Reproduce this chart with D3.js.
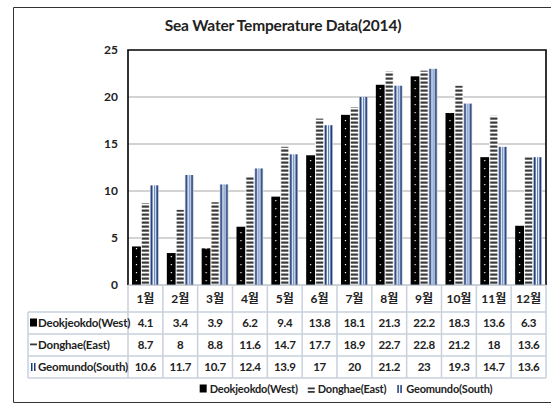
<!DOCTYPE html>
<html>
<head>
<meta charset="utf-8">
<script src="https://cdn.jsdelivr.net/npm/d3@7"></script>
<style>
  html, body { margin: 0; padding: 0; background: #fff; }
  svg text { font-family: Lato, "Noto Sans CJK KR", sans-serif; font-weight: bold; fill: #222; }
</style>
</head>
<body>
<svg id="chart" width="551" height="403"></svg>
<script>
// Monthly sea water temperature (°C), 2014
const months = ["1월","2월","3월","4월","5월","6월","7월","8월","9월","10월","11월","12월"];
const seriesNames = ["Deokjeokdo(West)", "Donghae(East)", "Geomundo(South)"];
const westValues  = [4.1, 3.4, 3.9, 6.2, 9.4, 13.8, 18.1, 21.3, 22.2, 18.3, 13.6, 6.3];
const eastValues  = [8.7, 8, 8.8, 11.6, 14.7, 17.7, 18.9, 22.7, 22.8, 21.2, 18, 13.6];
const southValues = [10.6, 11.7, 10.7, 12.4, 13.9, 17, 20, 21.2, 23, 19.3, 14.7, 13.6];
const yTicks = [0, 5, 10, 15, 20, 25];

const series = [westValues, eastValues, southValues];

const svg = d3.select("#chart");
const plot = { left: 128, right: 546, top: 50, bottom: 285 };

const x0 = d3.scaleBand().domain(months).range([plot.left, plot.right]).paddingInner(0).paddingOuter(0);
const step = x0.step();
const x1 = d3.scaleBand().domain(seriesNames).range([4.0, step - 4.0]).padding(0);
const y = d3.scaleLinear().domain([0, 25]).range([plot.bottom, plot.top]);
const bw = x1.bandwidth();

// Outer chart border
svg.append("path")
  .attr("d", `M552,7.5 H13.5 V402.5 H552`)
  .attr("fill", "none").attr("stroke", "#333").attr("stroke-width", 1);

// Title
svg.append("text")
  .attr("x", 283).attr("y", 31)
  .attr("text-anchor", "middle")
  .style("font-size", "15.5px")
  .attr("letter-spacing", "-0.2px")
  .text("Sea Water Temperature Data(2014)");

// Fill patterns; each month group is translated to its band start, so the
// tiles (one band wide) start at x = 0 of the group's coordinate system.
const defs = svg.append("defs");
const westOff = x1(seriesNames[0]), eastOff = x1(seriesNames[1]), southOff = x1(seriesNames[2]);

const pW = defs.append("pattern").attr("id", "pat-west").attr("patternUnits", "userSpaceOnUse")
  .attr("x", 0).attr("y", plot.bottom).attr("width", step).attr("height", 8);
pW.append("rect").attr("width", step).attr("height", 8).attr("fill", "#000");
pW.append("rect").attr("x", westOff + bw / 2 - 0.6).attr("y", 3).attr("width", 1.2).attr("height", 1.2).attr("fill", "#fff");

const pE = defs.append("pattern").attr("id", "pat-east").attr("patternUnits", "userSpaceOnUse")
  .attr("x", 0).attr("y", plot.bottom).attr("width", step).attr("height", 4);
pE.append("rect").attr("width", step).attr("height", 4).attr("fill", "#fff");
pE.append("rect").attr("x", eastOff + 0.8).attr("y", 0.5).attr("width", bw - 1.6).attr("height", 2.2).attr("fill", "#3a3a3a");

const pS = defs.append("pattern").attr("id", "pat-south").attr("patternUnits", "userSpaceOnUse")
  .attr("x", 0).attr("y", 0).attr("width", step).attr("height", 10);
pS.append("rect").attr("width", step).attr("height", 10).attr("fill", "#fff");
pS.append("rect").attr("x", southOff + 0.6).attr("width", 2).attr("height", 10).attr("fill", "#1d3b78");
pS.append("rect").attr("x", southOff + bw / 2 - 0.5).attr("width", 1.2).attr("height", 10).attr("fill", "#5b82c4");
pS.append("rect").attr("x", southOff + bw - 2.6).attr("width", 2).attr("height", 10).attr("fill", "#1d3b78");

const fills = ["url(#pat-west)", "url(#pat-east)", "url(#pat-south)"];

// Gridlines
svg.append("g").selectAll("line").data(yTicks.filter(t => t > 0 && t < 25)).join("line")
  .attr("x1", plot.left).attr("x2", plot.right)
  .attr("y1", d => y(d)).attr("y2", d => y(d))
  .attr("stroke", "#c4c4c4").attr("stroke-width", 1.5);

// Y axis labels
const yAxis = d3.axisLeft(y).tickValues(yTicks).tickSize(0).tickPadding(10);
const gy = svg.append("g").attr("transform", `translate(${plot.left},0)`).call(yAxis);
gy.select(".domain").remove();
gy.selectAll("text").style("font-size", "12px").style("font-family", null).attr("fill", "#222");

// Bars
const groups = svg.append("g").selectAll("g").data(months).join("g")
  .attr("transform", d => `translate(${x0(d)},0)`);
groups.selectAll("rect")
  .data((m, i) => seriesNames.map((s, k) => ({ s, k, v: series[k][i] })))
  .join("rect")
  .attr("x", d => x1(d.s))
  .attr("width", bw)
  .attr("y", d => y(d.v))
  .attr("height", d => y(0) - y(d.v))
  .attr("fill", d => fills[d.k]);

// Plot frame
svg.append("path")
  .attr("d", `M${plot.left},${plot.bottom} V${plot.top} H${plot.right} V${plot.bottom}`)
  .attr("fill", "none").attr("stroke", "#000").attr("stroke-width", 1.6);

// Data table
const tbl = { labelLeft: 28, headerBottom: 312, rowH: 22 };
const rowTop = k => tbl.headerBottom + k * tbl.rowH;
const tableBottom = rowTop(3);
const gridColor = "#c9d1dd";
const tg = svg.append("g");

tg.append("line").attr("x1", plot.left).attr("x2", plot.right).attr("y1", plot.bottom).attr("y2", plot.bottom)
  .attr("stroke", "#9aa3b0").attr("stroke-width", 1.2);
[0, 1, 2, 3].forEach(k => {
  tg.append("line").attr("x1", tbl.labelLeft).attr("x2", plot.right)
    .attr("y1", rowTop(k)).attr("y2", rowTop(k))
    .attr("stroke", gridColor).attr("stroke-width", 1.5);
});
const vx = months.map(m => x0(m)).concat([plot.right]);
tg.selectAll(".v").data(vx).join("line")
  .attr("x1", d => d).attr("x2", d => d)
  .attr("y1", plot.bottom).attr("y2", tableBottom)
  .attr("stroke", gridColor).attr("stroke-width", 1.5);
tg.append("line").attr("x1", tbl.labelLeft).attr("x2", tbl.labelLeft)
  .attr("y1", rowTop(0)).attr("y2", tableBottom)
  .attr("stroke", gridColor).attr("stroke-width", 1.5);

// month headers
tg.selectAll(".mh").data(months).join("text")
  .attr("x", d => x0(d) + step / 2).attr("y", 303)
  .attr("text-anchor", "middle").style("font-size", "12px")
  .text(d => d);

// values
series.forEach((vals, k) => {
  tg.selectAll(".val" + k).data(vals).join("text")
    .attr("x", (d, i) => x0(months[i]) + step / 2)
    .attr("y", rowTop(k) + 15)
    .attr("text-anchor", "middle").style("font-size", "11.5px")
    .attr("letter-spacing", "-0.3px")
    .text(d => d);
});

// legend key glyphs
function drawKey(g, k, x, yc, double) {
  if (k === 0) {
    g.append("rect").attr("x", x).attr("y", yc - 4.5).attr("width", 7).attr("height", 8).attr("fill", "#000");
  } else if (k === 1) {
    g.append("rect").attr("x", x).attr("y", yc - 1.5).attr("width", 7).attr("height", 1.8).attr("fill", "#3a3a3a");
    if (double) g.append("rect").attr("x", x).attr("y", yc + 2).attr("width", 7).attr("height", 1.8).attr("fill", "#3a3a3a");
  } else {
    g.append("rect").attr("x", x + 1).attr("y", yc - 4).attr("width", 1.5).attr("height", 8).attr("fill", "#1d3b78");
    g.append("rect").attr("x", x + 4).attr("y", yc - 4).attr("width", 1.5).attr("height", 8).attr("fill", "#1d3b78");
  }
}

// row labels
seriesNames.forEach((name, k) => {
  const yc = rowTop(k) + 11;
  drawKey(tg, k, 30, yc, false);
  tg.append("text").attr("x", 38).attr("y", rowTop(k) + 15)
    .style("font-size", "11.5px").attr("letter-spacing", "-0.2px").text(name);
});

// bottom legend, laid out from measured text widths and centred
const lg = svg.append("g");
const items = seriesNames.map((name, k) => {
  const g = lg.append("g");
  const t = g.append("text").attr("x", 10).attr("y", 393)
    .style("font-size", "11px").attr("letter-spacing", "-0.2px").text(name);
  drawKey(g, k, 0, 389, true);
  return { g, w: 10 + t.node().getComputedTextLength() };
});
const gap = 10;
const total = d3.sum(items, d => d.w) + gap * (items.length - 1);
let cx = 346 - total / 2;
items.forEach(it => { it.g.attr("transform", `translate(${cx},0)`); cx += it.w + gap; });
</script>
</body>
</html>
